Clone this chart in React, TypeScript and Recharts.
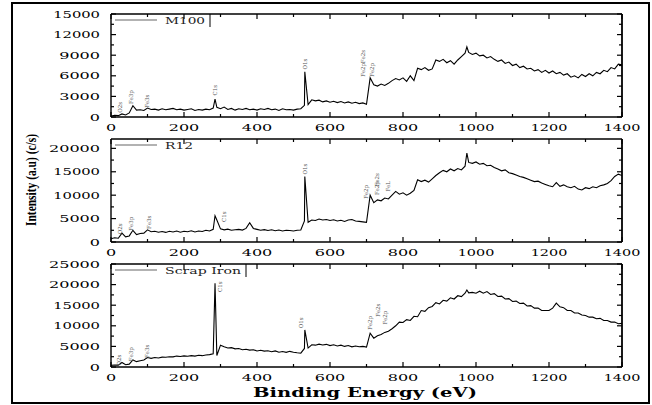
import React from "react";
import { LineChart, Line, XAxis, YAxis, Legend, ReferenceDot } from "recharts";

// binding energy grid (eV)
const energies = [
  0, 10, 20, 30, 40, 50, 60, 70, 80, 90,
  100, 110, 120, 130, 140, 150, 160, 170, 180, 190,
  200, 210, 220, 230, 240, 250, 260, 270, 280, 285,
  290, 300, 310, 320, 330, 340, 350, 360, 370, 380,
  390, 400, 410, 420, 430, 440, 450, 460, 470, 480,
  490, 500, 510, 520, 530, 531, 540, 550, 560, 570,
  580, 590, 600, 610, 620, 630, 640, 650, 660, 670,
  680, 690, 700, 710, 720, 730, 740, 750, 760, 770,
  780, 790, 800, 810, 820, 830, 840, 850, 860, 870,
  880, 890, 900, 910, 920, 930, 940, 950, 960, 970,
  975, 980, 990, 1000, 1010, 1020, 1030, 1040, 1050, 1060,
  1070, 1080, 1090, 1100, 1110, 1120, 1130, 1140, 1150, 1160,
  1170, 1180, 1190, 1200, 1210, 1220, 1230, 1240, 1250, 1260,
  1270, 1280, 1290, 1300, 1310, 1320, 1330, 1340, 1350, 1360,
  1370, 1380, 1390, 1400,
];

const m100 = [
  150, 250, 200, 450, 300, 600, 1650, 1000, 1050, 950,
  1300, 1100, 1150, 1000, 1200, 1050, 1150, 1250, 1050, 1150,
  1000, 1100, 1200, 950, 1100, 1000, 1150, 1050, 1300, 2600,
  1400, 1200, 1450, 1100, 1250, 1000, 1200, 1100, 1250, 1050,
  1150, 1000, 1200, 1100, 1250, 1050, 1150, 950, 1200, 1050,
  1100, 1000, 1150, 1200, 1700, 6600, 1800, 2500, 2350, 2450,
  2200, 2350, 2150, 2300, 2100, 2250, 2050, 2200, 2000, 2150,
  1950, 2050, 1850, 5700, 4700, 4500, 4800, 4600, 4900, 5300,
  5600, 5400, 5700, 5200, 6000, 5300, 7100, 6900, 7200, 6800,
  7000, 8300, 8100, 8400, 7900, 8200, 7700, 8300, 8800, 9300,
  10200, 9400, 9100, 9300, 8900, 9000, 8600, 8800, 8400, 8100,
  8300, 7800, 8000, 7500, 7700, 7200, 7400, 7000, 7100, 6700,
  6900, 6500, 6800, 6400, 6700, 6300, 6500, 6100, 6300, 5800,
  6000, 5700, 6200, 5900, 6300, 6000, 6500, 6300, 6800, 6600,
  7200, 7000, 7700, 7600,
];

const r12 = [
  700, 900, 800, 1900, 1100, 1300, 2500, 1600, 1800, 1900,
  2600, 2200, 2300, 2100, 2250, 2050, 2300, 2150, 2350, 2100,
  2300, 2200, 2400, 2150, 2350, 2250, 2500, 2350, 2700, 5600,
  4700, 2800, 2600, 2750, 2500, 2600, 2700, 2550, 2900, 4100,
  2900, 2700, 2500, 2650, 2450, 2600, 2400, 2550, 2350, 2500,
  2450, 2350, 2500, 2550, 4500, 14000, 4200, 4700, 4600, 4900,
  4700, 4800, 4600, 4750, 4500, 4650, 4400, 4700, 4800, 4500,
  4400, 4300, 4200, 10000, 8400, 9000, 8800, 9400, 9200, 10000,
  10800, 10200, 10500, 10000, 10400, 11000, 13300, 12900, 13200, 12800,
  13500, 14200, 14800, 15300, 15000, 15600, 15200, 15700, 15400, 16200,
  19000, 17000, 16800, 17100, 16600, 16800, 16300, 16400, 15900, 15600,
  15200, 15400, 14800, 14600, 14300, 14000, 13800, 13500, 13200, 12900,
  13000, 12600, 12300, 12000, 11800, 12700, 11900, 12200, 11800, 11600,
  11900, 11300, 11100, 11600, 11400, 11800, 11600, 12000, 12200, 12500,
  13100, 14000, 14500, 14200,
];

const scrapIron = [
  400, 500, 450, 1100, 550, 700, 1700, 1300, 1500, 1700,
  2300, 2100, 2300, 2200, 2400, 2350, 2500, 2450, 2650, 2550,
  2700, 2600, 2750, 2650, 2850, 2750, 2900, 3000, 3200, 20300,
  2800, 5300, 4900, 4600, 4700, 4400, 4500, 4200, 4300, 4100,
  4200, 3900, 4050, 3850, 3950, 3700, 3900, 3600, 3750, 3550,
  3800, 3600, 3450, 3350, 4500, 9000, 4600, 5400, 5300, 5550,
  5350, 5500, 5200, 5400, 5100, 5300, 5000, 5200, 4900, 5100,
  4900, 5000, 4850, 8200, 7000, 7600, 7900, 8400, 8700, 9300,
  10000, 10900, 10800, 11500, 11300, 12300, 12200, 13700, 13500, 14400,
  14700, 15600, 15300, 16200, 16000, 16800, 16500, 17300, 17100, 17900,
  18700, 18000, 18100, 17900, 18400, 17900, 18300, 17600, 17800, 17100,
  17200, 16500, 16600, 15900, 16000, 15400, 15500, 14800, 14900, 14300,
  14300, 13700, 13700, 13700, 14300, 15500, 14600, 14400, 13700, 13700,
  13100, 13100, 12600, 12500, 12100, 12100, 11700, 11800, 11300, 11300,
  10900, 10900, 10500, 10600,
];

const xTicks = [0, 100, 200, 300, 400, 500, 600, 700, 800, 900, 1000, 1100, 1200, 1300, 1400];
const m100Ticks = [0, 1500, 3000, 4500, 6000, 7500, 9000, 10500, 12000, 13500, 15000];
const r12Ticks = [0, 2500, 5000, 7500, 10000, 12500, 15000, 17500, 20000];
const scrapTicks = [0, 2500, 5000, 7500, 10000, 12500, 15000, 17500, 20000, 22500, 25000];

// peak labels (energy, intensity, text)
const m100Notes = [
  { e: 25, v: 1400, t: "O2s" },
  { e: 55, v: 2900, t: "Fe3p" },
  { e: 100, v: 2300, t: "Fe3s" },
  { e: 285, v: 3900, t: "C1s" },
  { e: 531, v: 7700, t: "O1s" },
  { e: 691, v: 8800, t: "Fe2s" },
  { e: 691, v: 6850, t: "Fe2p" },
  { e: 714, v: 6850, t: "Fe2p" },
];
const r12Notes = [
  { e: 26, v: 2800, t: "O2s" },
  { e: 55, v: 3900, t: "Fe3p" },
  { e: 103, v: 4200, t: "Fe3s" },
  { e: 311, v: 5400, t: "C1s" },
  { e: 531, v: 15600, t: "O1s" },
  { e: 700, v: 10700, t: "Fe2p" },
  { e: 728, v: 13300, t: "Fe2s" },
  { e: 728, v: 11500, t: "Fe2p" },
  { e: 760, v: 11900, t: "FeL" },
];
const scrapNotes = [
  { e: 22, v: 1700, t: "O2s" },
  { e: 55, v: 3100, t: "Fe3p" },
  { e: 100, v: 3800, t: "Fe3s" },
  { e: 300, v: 19500, t: "C1s" },
  { e: 522, v: 10700, t: "O1s" },
  { e: 710, v: 10700, t: "Fe2p" },
  { e: 733, v: 13800, t: "Fe2s" },
  { e: 751, v: 12000, t: "Fe2p" },
];

const data = energies.map((e, i) => ({ e, m100: m100[i], r12: r12[i], scrap: scrapIron[i] }));

const FONT = '"DejaVu Serif", serif';

const panels = [
  { key: "m100", name: "M100", top: 0, max: 15000, ticks: m100Ticks, step: 3000, boxed: true, legendLen: 40, notes: m100Notes },
  { key: "r12", name: "R12", top: 125, max: 22000, ticks: r12Ticks, step: 5000, boxed: false, legendLen: 28, notes: r12Notes },
  { key: "scrap", name: "Scrap Iron", top: 250, max: 25000, ticks: scrapTicks, step: 5000, boxed: true, legendLen: 76, notes: scrapNotes },
];

// the original uses a very wide serif; stretch digits to match
const labelLen = (s: string) => s.split("").reduce((a, c) => a + (c === "1" ? 6 : 10.2), 0);

function BottomTick({ x, y, payload }: any) {
  const v = payload.value;
  const major = v % 200 === 0;
  const s = String(v);
  return (
    <g>
      <line x1={x} x2={x} y1={y} y2={y - (major ? 5 : 3)} stroke="#000" strokeWidth={1.2} />
      {major && (
        <text
          x={x}
          y={y + 14}
          textAnchor="middle"
          fontFamily={FONT}
          fontSize={10}
          textLength={labelLen(s)}
          lengthAdjust="spacingAndGlyphs"
          fill="#000"
        >
          {s}
        </text>
      )}
    </g>
  );
}

function TopTick({ x, y, payload }: any) {
  const major = payload.value % 200 === 0;
  return <line x1={x} x2={x} y1={y} y2={y + (major ? 5 : 3)} stroke="#000" strokeWidth={1.2} />;
}

const leftTick = (step: number) => ({ x, y, payload }: any) => {
  const v = payload.value;
  const major = v % step === 0;
  const s = String(v);
  return (
    <g>
      <line x1={x} x2={x + (major ? 5 : 3)} y1={y} y2={y} stroke="#000" strokeWidth={1.2} />
      {major && (
        <text
          x={x - 11}
          y={y}
          dy={3.5}
          textAnchor="end"
          fontFamily={FONT}
          fontSize={10}
          textLength={labelLen(s)}
          lengthAdjust="spacingAndGlyphs"
          fill="#000"
        >
          {s}
        </text>
      )}
    </g>
  );
};

const rightTick = (step: number) => ({ x, y, payload }: any) => {
  const major = payload.value % step === 0;
  return <line x1={x} x2={x - (major ? 5 : 3)} y1={y} y2={y} stroke="#000" strokeWidth={1.2} />;
};

export default function App() {
  return (
    <div style={{ position: "absolute", left: 0, top: 0, width: 652, height: 405, background: "#fff", overflow: "hidden" }}>
      {panels.map((p) => (
        <div key={p.key} style={{ position: "absolute", left: 0, top: p.top }}>
          <LineChart width={652} height={140} data={data} margin={{ top: 10, right: 26, left: 61, bottom: 3 }}>
            <XAxis
              dataKey="e"
              type="number"
              domain={[0, 1400]}
              ticks={xTicks}
              interval={0}
              height={20}
              tickSize={0}
              tickMargin={0}
              tick={BottomTick}
              axisLine={{ stroke: "#000", strokeWidth: 1.4 }}
              allowDataOverflow
            />
            <XAxis
              xAxisId="top"
              orientation="top"
              dataKey="e"
              type="number"
              domain={[0, 1400]}
              ticks={xTicks}
              interval={0}
              height={4}
              tickSize={0}
              tickMargin={0}
              tick={TopTick}
              axisLine={{ stroke: "#000", strokeWidth: 1.4 }}
            />
            <YAxis
              type="number"
              domain={[0, p.max]}
              ticks={p.ticks}
              interval={0}
              width={50}
              tickSize={0}
              tickMargin={0}
              tick={leftTick(p.step)}
              axisLine={{ stroke: "#000", strokeWidth: 1.4 }}
              allowDataOverflow
            />
            <YAxis
              yAxisId="right"
              orientation="right"
              dataKey={p.key}
              type="number"
              domain={[0, p.max]}
              ticks={p.ticks}
              interval={0}
              width={4}
              tickSize={0}
              tickMargin={0}
              tick={rightTick(p.step)}
              axisLine={{ stroke: "#000", strokeWidth: 1.8 }}
            />
            <Legend
              verticalAlign="middle"
              align="center"
              layout="horizontal"
              wrapperStyle={{ left: 113, top: 14, width: "auto", lineHeight: 0 }}
              content={() => {
                const w = 52 + p.legendLen + 6;
                return (
                  <svg width={w} height={13} style={{ display: "block" }}>
                    <line x1={2} x2={44} y1={6} y2={6} stroke="#666" strokeWidth={1.2} />
                    <text
                      x={52}
                      y={10}
                      fontFamily={FONT}
                      fontSize={10}
                      textLength={p.legendLen}
                      lengthAdjust="spacingAndGlyphs"
                      fill="#222"
                    >
                      {p.name}
                    </text>
                    {p.boxed && <line x1={w - 1} x2={w - 1} y1={0} y2={13} stroke="#000" strokeWidth={1} />}
                  </svg>
                );
              }}
            />
            {p.notes.map((n, i) => (
              <ReferenceDot
                key={i}
                x={n.e}
                y={n.v}
                r={0}
                fill="none"
                stroke="none"
                label={{ value: n.t, angle: -90, position: "center", fontSize: 5.5, fill: "#555", fontFamily: FONT }}
              />
            ))}
            <Line
              type="linear"
              dataKey={p.key}
              name={p.name}
              stroke="#000"
              strokeWidth={1.1}
              dot={false}
              isAnimationActive={false}
            />
          </LineChart>
        </div>
      ))}
      <svg width={652} height={405} style={{ position: "absolute", left: 0, top: 0, pointerEvents: "none" }}>
        <text
          transform="translate(36,180) rotate(-90)"
          textAnchor="middle"
          fontFamily='"Liberation Serif", serif'
          fontWeight="bold"
          fontSize={14}
          textLength={92}
          lengthAdjust="spacingAndGlyphs"
          fill="#000"
        >
          Intensity (a.u) (c/s)
        </text>
        <text
          x={365}
          y={396.5}
          textAnchor="middle"
          fontFamily={FONT}
          fontWeight="bold"
          fontSize={13.5}
          textLength={224}
          lengthAdjust="spacingAndGlyphs"
          fill="#000"
        >
          Binding Energy (eV)
        </text>
      </svg>
      <div
        style={{
          position: "absolute",
          left: 11,
          top: 2,
          width: 639,
          height: 402,
          border: "2px solid #000",
          boxSizing: "border-box",
          pointerEvents: "none",
        }}
      />
    </div>
  );
}
